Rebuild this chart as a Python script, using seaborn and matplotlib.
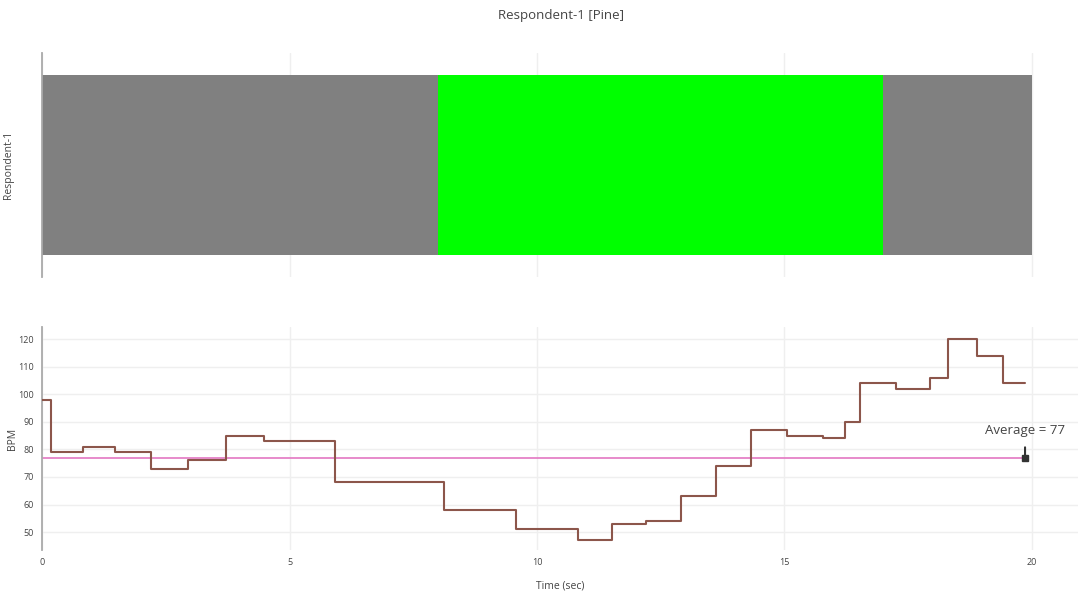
import numpy as np
import pandas as pd
import matplotlib
matplotlib.use('Agg')
import matplotlib.pyplot as plt
import seaborn as sns

# stimulus segments shown on the top panel
seg_start = [0.0, 8.0, 17.0]
seg_end = [8.0, 17.0, 20.0]
seg_color = ['#808080', '#00ff00', '#808080']

# heart rate steps (time where each value begins)
times = [0.0, 0.175, 0.83, 1.47, 2.20, 2.94, 3.71, 4.48, 5.91, 8.13, 9.57,
         10.83, 11.52, 12.20, 12.90, 13.62, 14.32, 15.06, 15.78, 16.22,
         16.53, 17.25, 17.93, 18.31, 18.88, 19.41, 19.86]
bpm = [98, 79, 81, 79, 73, 76, 85, 83, 68, 58, 51,
       47, 53, 54, 63, 74, 87, 85, 84, 90,
       104, 102, 106, 120, 114, 104, 104]
average = 77
avg_times = [0.0, 19.86]

sns.set_style('white')
plt.rcParams['font.family'] = ['Open Sans', 'DejaVu Sans']

fig = plt.figure(figsize=(10.78, 5.92), dpi=100)
ax_top = fig.add_axes([0.039, 0.532, 0.961, 0.3785])
ax_bot = fig.add_axes([0.039, 0.0709, 0.961, 0.3767])

grid_col = '#efefef'
txt_col = '#444444'
xmax = 20.93

# top panel: coloured segments
for s, e, c in zip(seg_start, seg_end, seg_color):
    ax_top.barh(0, e - s, left=s, height=0.8, color=c, edgecolor='none', zorder=2)
ax_top.set_xlim(0, xmax)
ax_top.set_ylim(-0.5, 0.5)
ax_top.set_xticks([0, 5, 10, 15, 20])
ax_top.set_xticklabels([])
ax_top.tick_params(axis='x', length=0)
ax_top.set_yticks([0])
ax_top.set_yticklabels([''])
ax_top.tick_params(axis='y', length=3, color='#bbbbbb', width=1)
ax_top.grid(axis='x', color=grid_col, lw=1, zorder=0)
ax_top.set_axisbelow(True)
ax_top.set_ylabel('Respondent-1', fontsize=7.5, color=txt_col)
ax_top.yaxis.set_label_coords(-0.027, 0.5)
for side in ['top', 'right', 'bottom']:
    ax_top.spines[side].set_visible(False)
ax_top.spines['left'].set_color('#aaaaaa')
ax_top.spines['left'].set_linewidth(1.3)

# bottom panel: BPM step line
df = pd.DataFrame({'time': times, 'bpm': bpm})
sns.lineplot(data=df, x='time', y='bpm', ax=ax_bot, drawstyle='steps-post',
             color='#8c564b', lw=1.5, sort=False, estimator=None, zorder=3)
sns.lineplot(x=avg_times, y=[average] * len(avg_times), ax=ax_bot,
             color='#e377c2', lw=1.2, estimator=None, zorder=2)
ax_bot.plot([avg_times[-1]], [average], marker='s', ms=4.5, color='#333333', zorder=4)
ax_bot.annotate(f'Average = {average}', xy=(avg_times[-1], average),
                xytext=(avg_times[-1], average + 9.8), ha='center', va='center',
                fontsize=9.5, color=txt_col,
                arrowprops=dict(arrowstyle='-', color='#333333', lw=1.5,
                                shrinkA=5, shrinkB=0))

ax_bot.set_xlim(0, xmax)
ax_bot.set_ylim(43.5, 124.35)
ax_bot.set_xticks([0, 5, 10, 15, 20])
ax_bot.set_yticks([50, 60, 70, 80, 90, 100, 110, 120])
ax_bot.tick_params(axis='both', length=0, labelsize=6.5, labelcolor=txt_col, pad=6)
ax_bot.grid(color=grid_col, lw=1)
ax_bot.set_axisbelow(True)
ax_bot.set_xlabel('Time (sec)', fontsize=7.5, color=txt_col)
ax_bot.set_ylabel('BPM', fontsize=7.5, color=txt_col)
ax_bot.xaxis.set_label_coords(0.5, -0.135)
ax_bot.yaxis.set_label_coords(-0.023, 0.5)
for side in ['top', 'right', 'bottom']:
    ax_bot.spines[side].set_visible(False)
ax_bot.spines['left'].set_color('#aaaaaa')
ax_bot.spines['left'].set_linewidth(1.3)

fig.suptitle('Respondent-1 [Pine]', fontsize=9.5, color=txt_col, x=0.52, y=0.985)

fig.savefig('out.png', dpi=100)
